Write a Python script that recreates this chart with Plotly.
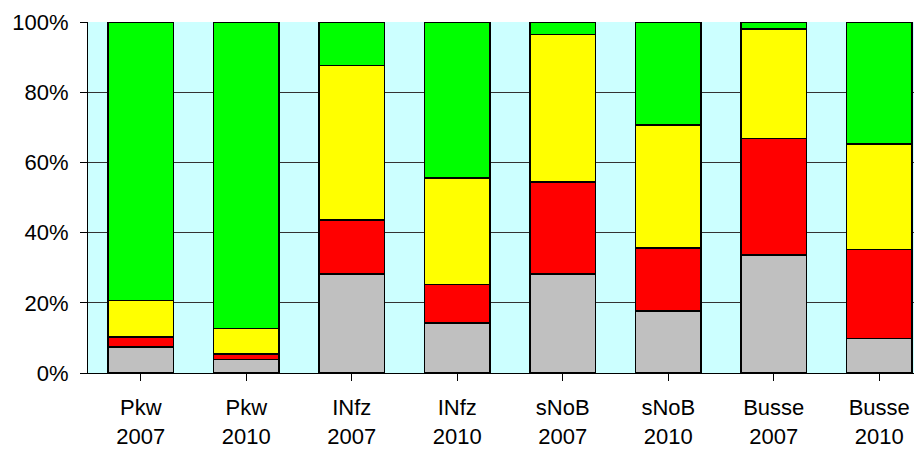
import plotly.graph_objects as go

categories = ["Pkw<br>2007", "Pkw<br>2010", "INfz<br>2007", "INfz<br>2010",
              "sNoB<br>2007", "sNoB<br>2010", "Busse<br>2007", "Busse<br>2010"]
gray_vals = [7.4, 3.9, 28.2, 14.3, 28.2, 17.7, 33.6, 9.8]
red_vals = [2.9, 1.5, 15.4, 10.9, 26.2, 17.9, 33.2, 25.4]
yellow_vals = [10.4, 7.3, 44.0, 30.3, 42.0, 35.1, 31.2, 30.0]
green_vals = [79.3, 87.3, 12.4, 44.5, 3.6, 29.3, 2.0, 34.8]
tick_vals = [0, 20, 40, 60, 80, 100]
tick_text = ["0%", "20%", "40%", "60%", "80%", "100%"]

series = [
    ("grau", gray_vals, "#C0C0C0"),
    ("rot", red_vals, "#FF0000"),
    ("gelb", yellow_vals, "#FFFF00"),
    ("grün", green_vals, "#00FF00"),
]

fig = go.Figure()
for name, vals, color in series:
    fig.add_trace(go.Bar(
        x=list(range(len(categories))), y=vals, name=name,
        marker=dict(color=color, line=dict(color="black", width=1.5)),
    ))

font = dict(family="Liberation Sans, Arial, sans-serif", size=22, color="black")
# the page body has an 8px default margin, so the figure is offset by 8px
fig.update_layout(
    width=914, height=442,
    margin=dict(l=80, r=0, t=14, b=77),
    barmode="stack", bargap=0.38,
    showlegend=False,
    paper_bgcolor="white", plot_bgcolor="#CCFFFF",
    font=font,
)
fig.update_xaxes(
    tickmode="array", tickvals=list(range(len(categories))), ticktext=categories,
    range=[-0.5, 7.405], automargin=False,
    showline=True, linecolor="black", linewidth=1,
    ticks="outside", ticklen=7, tickcolor="black", tickwidth=1,
    tickson="boundaries", showgrid=False, zeroline=False,
    tickfont=font, ticklabelstandoff=8,
)
fig.update_yaxes(
    range=[0, 100], tickmode="array", tickvals=tick_vals, ticktext=tick_text,
    automargin=False,
    showline=True, linecolor="black", linewidth=1,
    ticks="outside", ticklen=7, tickcolor="black", tickwidth=1,
    showgrid=True, gridcolor="#333333", gridwidth=1, zeroline=False,
    tickfont=font, ticklabelstandoff=7,
)
fig.write_html("out.html")
